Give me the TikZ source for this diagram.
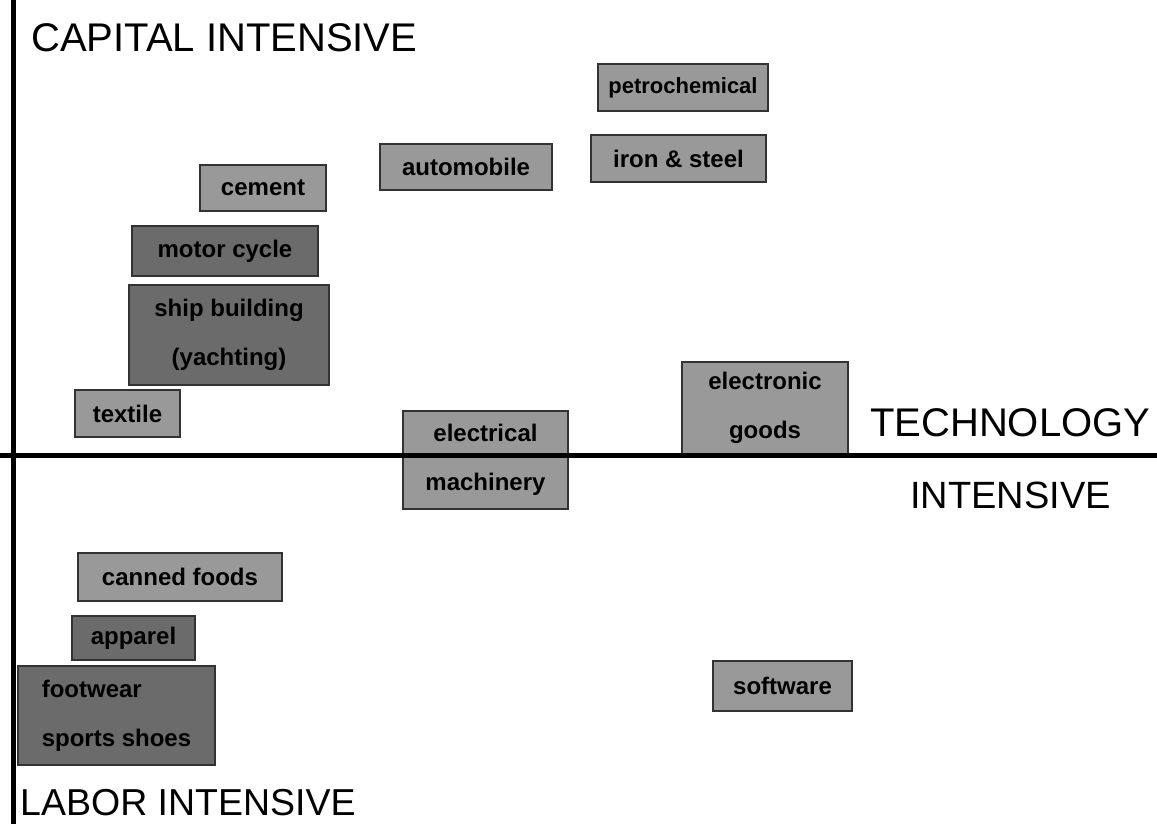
\documentclass[tikz,border=0pt]{standalone}
\usepackage{fontspec}
\setmainfont{Liberation Sans}
\begin{document}
\begin{tikzpicture}[x=1pt,y=-1pt,
  head/.style={inner sep=0pt,anchor=base west,font=\fontsize{40}{44}\selectfont},
  lbox/.style={draw=black!80,line width=1.5pt,fill=black!40,inner sep=0pt,
     font=\fontsize{24}{49}\selectfont\bfseries,align=center},
  dbox/.style={lbox,fill=black!58}]
\useasboundingbox (0,0) rectangle (1157,824);
% sector boxes
\node[lbox,minimum width=170pt,minimum height=47pt,font=\fontsize{22}{49}\selectfont\bfseries] (petro) at (683,87.5) {petrochemical};
\node[lbox,minimum width=175pt,minimum height=47pt] (iron) at (678.5,158.5) {iron \& steel};
\node[lbox,minimum width=172pt,minimum height=46pt] (auto) at (466,167) {automobile};
\node[lbox,minimum width=126pt,minimum height=46pt] (cement) at (263,188) {cement};
\node[dbox,minimum width=186pt,minimum height=50pt] (motor) at (225,251) {motor cycle};
\node[dbox,minimum width=200pt,minimum height=100pt] (ship) at (229,335) {ship building\\(yachting)};
\node[lbox,minimum width=105pt,minimum height=47pt] (textile) at (127.5,413.5) {textile};
\node[lbox,minimum width=165pt,minimum height=98pt] (elmach) at (485.5,460) {electrical\\machinery};
\node[lbox,minimum width=166pt,minimum height=92pt] (elgoods) at (765,408) {electronic\\goods};
\node[lbox,minimum width=204pt,minimum height=48pt] (canned) at (180,577) {canned foods};
\node[dbox,minimum width=123pt,minimum height=44pt] (apparel) at (133.5,638) {apparel};
\node[dbox,minimum width=197pt,minimum height=99pt,align=left] (foot) at (116.5,715.5) {footwear\\sports shoes};
\node[lbox,minimum width=139pt,minimum height=50pt] (soft) at (782.5,686) {software};
% axes
\coordinate (vtop) at (13,0);
\coordinate (vbot) at (13,824);
\coordinate (hleft) at (0,455);
\coordinate (hright) at (1157,455);
\draw[line width=5pt] (vtop) -- (vbot);
\draw[line width=5pt] (hleft) -- (hright);
% axis labels
\node[head] (cap) at (31,52) {CAPITAL INTENSIVE};
\node[head,font=\fontsize{37.5}{42}\selectfont] (lab) at (20,815) {LABOR INTENSIVE};
\node[head] (tech) at (870,436) {TECHNOLOGY};
\node[head,font=\fontsize{38}{42}\selectfont] (tint) at (910,508) {INTENSIVE};
\end{tikzpicture}
\end{document}
